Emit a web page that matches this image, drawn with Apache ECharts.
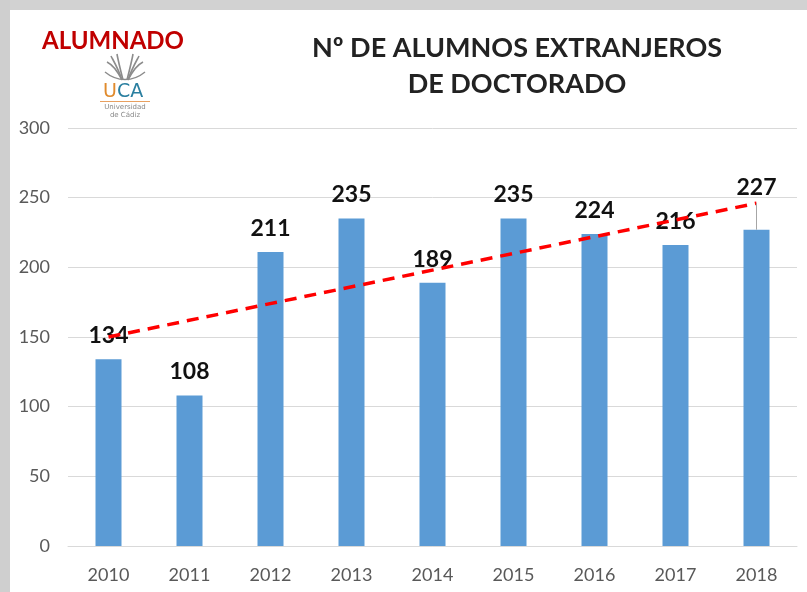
<!DOCTYPE html>
<html><head><meta charset="utf-8">
<script src="https://cdn.jsdelivr.net/npm/echarts@6/dist/echarts.min.js"></script>
<style>html,body{margin:0;padding:0;background:#fff}#c{width:807px;height:592px}</style>
</head><body><div id="c"></div>
<script>
const years = ['2010','2011','2012','2013','2014','2015','2016','2017','2018'];
const alumnos = [134,108,211,235,189,235,224,216,227];
const trendStart = 150;   // trend line value read at 2010
const trendEnd = 246;     // trend line value read at 2018
const yTicks = [0,50,100,150,200,250,300];

const chart = echarts.init(document.getElementById('c'), null, {renderer:'canvas'});
const F = 'Lato, "Open Sans", sans-serif';

const barData = alumnos.map((v,i)=> {
  if (i === alumnos.length-1) return {value:v, label:{offset:[0,-19]}};
  return v;
});

chart.setOption({
  backgroundColor:'#ffffff',
  animation:false,
  grid:{left:68,right:10,top:128,bottom:46},
  xAxis:{type:'category',data:years,
    axisLine:{lineStyle:{color:'#d9d9d9',width:1}},
    axisTick:{show:false},
    axisLabel:{color:'#595959',fontSize:18,fontFamily:F,margin:20}},
  yAxis:{type:'value',min:yTicks[0],max:yTicks[yTicks.length-1],interval:50,
    axisLine:{show:false},axisTick:{show:false},
    splitLine:{lineStyle:{color:'#d9d9d9',width:1}},
    axisLabel:{color:'#595959',fontSize:18,fontFamily:F,margin:18}},
  series:[
    {type:'bar',data:barData,barWidth:26,
     itemStyle:{color:'#5b9bd5'},
     label:{show:true,position:'top',distance:12,color:'#111',fontSize:23,fontWeight:'bold',fontFamily:F},
     markLine:{silent:true,symbol:'none',label:{show:false},
       lineStyle:{color:'#a6a6a6',width:1,type:'solid'},
       data:[[{xAxis:years[8],yAxis:alumnos[8]},{xAxis:years[8],yAxis:trendEnd}]]},
     z:2},
    {type:'line',data:[[0,trendStart],[years.length-1,trendEnd]],
     symbol:'none',lineStyle:{color:'#ff0000',width:3.5,type:[12,8]},z:3}
  ],
  graphic:[
    {type:'rect',shape:{x:0,y:0,width:807,height:10},style:{fill:'#d2d2d2'},silent:true},
    {type:'rect',shape:{x:0,y:0,width:10,height:592},style:{fill:'#cfcfcf'},silent:true},
    {type:'text',x:517,y:48,style:{text:'Nº DE ALUMNOS EXTRANJEROS',fill:'#222',font:'bold 27px '+F,textAlign:'center',textVerticalAlign:'middle'}},
    {type:'text',x:517,y:84,style:{text:'DE DOCTORADO',fill:'#222',font:'bold 27px '+F,textAlign:'center',textVerticalAlign:'middle'}},
    {type:'text',x:113,y:41,style:{text:'ALUMNADO',fill:'#c00000',font:'bold 24px '+F,textAlign:'center',textVerticalAlign:'middle'}},
    {type:'group',x:125,y:68,children:[
      {type:'bezierCurve',shape:{x1:-3,y1:12,x2:-18,y2:-6,cpx1:-8,cpy1:2,cpx2:-14,cpy2:-4},style:{stroke:'#8c8c8c',lineWidth:1.6,fill:null}},
      {type:'bezierCurve',shape:{x1:-3,y1:12,x2:-14,y2:-12,cpx1:-7,cpy1:0,cpx2:-12,cpy2:-8},style:{stroke:'#8c8c8c',lineWidth:1.6,fill:null}},
      {type:'bezierCurve',shape:{x1:-2,y1:12,x2:-8,y2:-14,cpx1:-5,cpy1:0,cpx2:-7,cpy2:-8},style:{stroke:'#8c8c8c',lineWidth:1.6,fill:null}},
      {type:'bezierCurve',shape:{x1:3,y1:12,x2:18,y2:-6,cpx1:8,cpy1:2,cpx2:14,cpy2:-4},style:{stroke:'#8c8c8c',lineWidth:1.6,fill:null}},
      {type:'bezierCurve',shape:{x1:3,y1:12,x2:14,y2:-12,cpx1:7,cpy1:0,cpx2:12,cpy2:-8},style:{stroke:'#8c8c8c',lineWidth:1.6,fill:null}},
      {type:'bezierCurve',shape:{x1:2,y1:12,x2:8,y2:-14,cpx1:5,cpy1:0,cpx2:7,cpy2:-8},style:{stroke:'#8c8c8c',lineWidth:1.6,fill:null}},
      {type:'bezierCurve',shape:{x1:-20,y1:4,x2:20,y2:4,cpx1:-8,cpy1:14,cpx2:8,cpy2:14},style:{stroke:'#8c8c8c',lineWidth:1.4,fill:null}}
    ]},
    {type:'text',x:103,y:92,style:{text:'U',fill:'#e08a2c',font:'19px "DejaVu Sans", sans-serif',textVerticalAlign:'middle'}},
    {type:'text',x:117,y:92,style:{text:'CA',fill:'#2a7fa0',font:'19px "DejaVu Sans", sans-serif',textVerticalAlign:'middle'}},
    {type:'rect',shape:{x:100,y:101,width:50,height:1},style:{fill:'#e8a060'}},
    {type:'text',x:125,y:107,style:{text:'Universidad',fill:'#888',font:'7px "DejaVu Sans", sans-serif',textAlign:'center',textVerticalAlign:'middle'}},
    {type:'text',x:125,y:115,style:{text:'de Cádiz',fill:'#888',font:'7px "DejaVu Sans", sans-serif',textAlign:'center',textVerticalAlign:'middle'}}
  ]
});
</script></body></html>
